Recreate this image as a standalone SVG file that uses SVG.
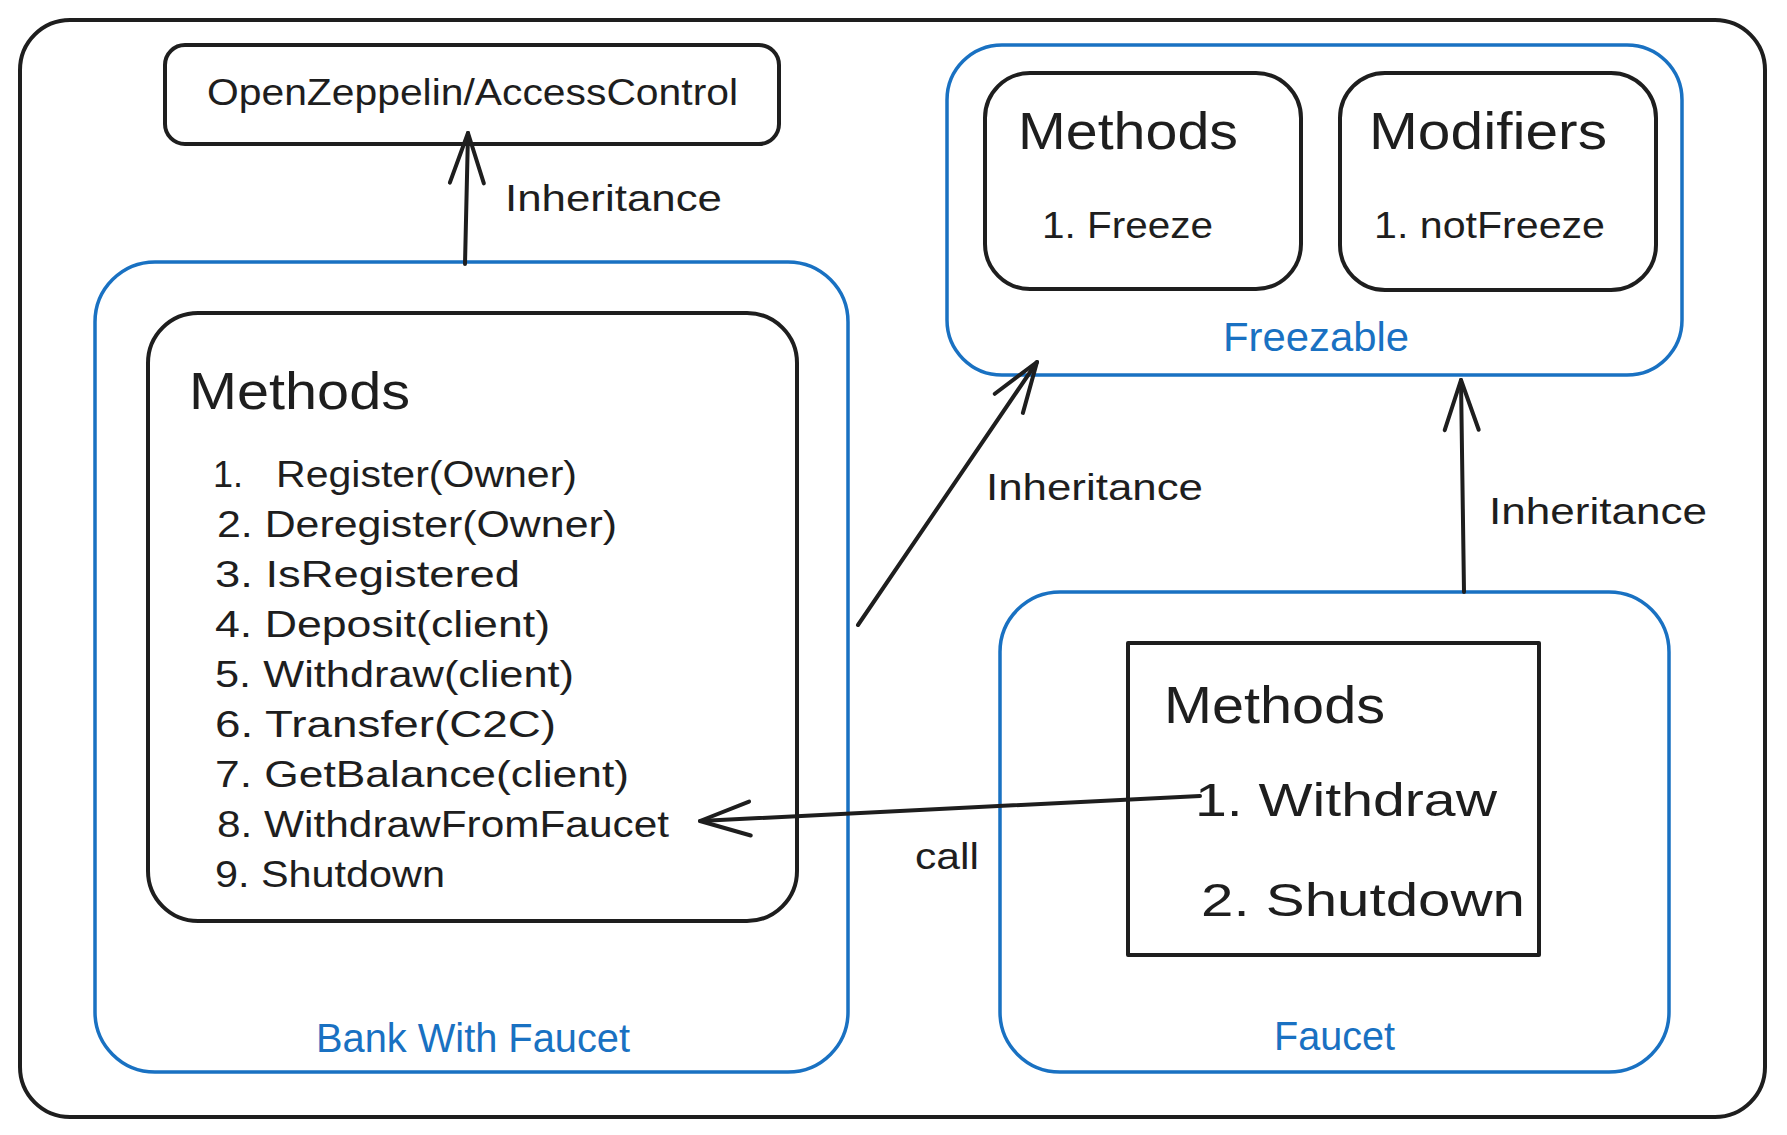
<svg xmlns="http://www.w3.org/2000/svg" width="1787" height="1135" viewBox="0 0 1787 1135">
<defs>
<style>
.k{fill:none;stroke:#1e1e1e;stroke-width:4;stroke-linecap:round;stroke-linejoin:round}
.b{fill:none;stroke:#1971c2;stroke-width:3.5}
.t{font-family:"Liberation Sans",Arial,sans-serif;fill:#1e1e1e}
.s{font-size:36px}
.h{font-size:52px}
.m{font-size:46px}
.bt{font-family:"Liberation Sans",Arial,sans-serif;fill:#1971c2;font-size:40px}
</style>
<marker id="ah" markerUnits="userSpaceOnUse" markerWidth="70" markerHeight="50" viewBox="-60 -25 70 50" refX="0" refY="0" orient="auto" overflow="visible">
<path d="M-50,-17 L0,0 L-50,17" fill="none" stroke="#1e1e1e" stroke-width="4" stroke-linecap="round" stroke-linejoin="round"/>
</marker>
</defs>
<rect width="1787" height="1135" fill="#ffffff"/>
<g id="frame">
<rect class="k" x="20" y="20" width="1745" height="1097" rx="50"/>
</g>
<g id="openzeppelin">
<rect class="k" x="165" y="45" width="614" height="99" rx="20"/>
<text class="t s" x="207" y="105" textLength="531" lengthAdjust="spacingAndGlyphs">OpenZeppelin/AccessControl</text>
</g>
<g id="bank">
<rect class="b" x="95" y="262" width="753" height="810" rx="60"/>
<text class="bt" x="316" y="1052" textLength="314" lengthAdjust="spacingAndGlyphs">Bank With Faucet</text>
</g>
<g id="bank-methods">
<rect class="k" x="148" y="313" width="649" height="608" rx="50"/>
<text class="t h" x="189" y="409" textLength="221" lengthAdjust="spacingAndGlyphs">Methods</text>
<text class="t s" y="487"><tspan x="213">1.</tspan><tspan x="276" textLength="301" lengthAdjust="spacingAndGlyphs">Register(Owner)</tspan></text>
<text class="t s" x="217" y="537" textLength="400" lengthAdjust="spacingAndGlyphs">2. Deregister(Owner)</text>
<text class="t s" x="215" y="587" textLength="305" lengthAdjust="spacingAndGlyphs">3. IsRegistered</text>
<text class="t s" x="215" y="637" textLength="335" lengthAdjust="spacingAndGlyphs">4. Deposit(client)</text>
<text class="t s" x="215" y="687" textLength="359" lengthAdjust="spacingAndGlyphs">5. Withdraw(client)</text>
<text class="t s" x="215" y="737" textLength="341" lengthAdjust="spacingAndGlyphs">6. Transfer(C2C)</text>
<text class="t s" x="215" y="787" textLength="414" lengthAdjust="spacingAndGlyphs">7. GetBalance(client)</text>
<text class="t s" x="217" y="837" textLength="452" lengthAdjust="spacingAndGlyphs">8. WithdrawFromFaucet</text>
<text class="t s" x="215" y="887" textLength="230" lengthAdjust="spacingAndGlyphs">9. Shutdown</text>
</g>
<g id="freezable">
<rect class="b" x="947" y="45" width="735" height="330" rx="55"/>
<text class="bt" x="1223" y="351" font-size="36" textLength="186" lengthAdjust="spacingAndGlyphs">Freezable</text>
</g>
<g id="freeze-methods">
<rect class="k" x="985" y="73" width="316" height="216" rx="45"/>
<text class="t h" x="1018" y="149" textLength="220" lengthAdjust="spacingAndGlyphs">Methods</text>
<text class="t s" x="1042" y="238" textLength="171" lengthAdjust="spacingAndGlyphs">1. Freeze</text>
</g>
<g id="freeze-modifiers">
<rect class="k" x="1340" y="73" width="316" height="217" rx="45"/>
<text class="t h" x="1369" y="149" textLength="238" lengthAdjust="spacingAndGlyphs">Modifiers</text>
<text class="t s" x="1374" y="238" textLength="231" lengthAdjust="spacingAndGlyphs">1. notFreeze</text>
</g>
<g id="faucet">
<rect class="b" x="1000" y="592" width="669" height="480" rx="60"/>
<text class="bt" x="1274" y="1050" textLength="121" lengthAdjust="spacingAndGlyphs">Faucet</text>
</g>
<g id="faucet-methods">
<rect class="k" x="1128" y="643" width="411" height="312" stroke-linejoin="miter"/>
<text class="t h" x="1164" y="723" textLength="221" lengthAdjust="spacingAndGlyphs">Methods</text>
<text class="t m" x="1195" y="816" textLength="302" lengthAdjust="spacingAndGlyphs">1. Withdraw</text>
<text class="t m" x="1201" y="916" textLength="324" lengthAdjust="spacingAndGlyphs">2. Shutdown</text>
</g>
<g id="connectors">
<path class="k" d="M465,264 L468,133" marker-end="url(#ah)"/>
<text class="t s" x="505" y="211" textLength="217" lengthAdjust="spacingAndGlyphs">Inheritance</text>
<path class="k" d="M858,625 L1037,362" marker-end="url(#ah)"/>
<text class="t s" x="986" y="500" textLength="217" lengthAdjust="spacingAndGlyphs">Inheritance</text>
<path class="k" d="M1464,592 L1461,380" marker-end="url(#ah)"/>
<text class="t s" x="1489" y="524" textLength="218" lengthAdjust="spacingAndGlyphs">Inheritance</text>
<path class="k" d="M1200,796 L700,821" marker-end="url(#ah)"/>
<text class="t s" x="915" y="869" textLength="64" lengthAdjust="spacingAndGlyphs">call</text>
</g>
</svg>
